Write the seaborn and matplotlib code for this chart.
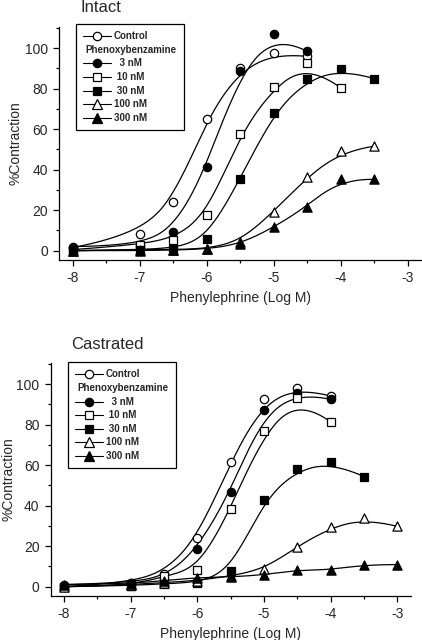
import numpy as np
import matplotlib
matplotlib.use('Agg')
import matplotlib.pyplot as plt
from matplotlib.lines import Line2D
from matplotlib.offsetbox import (AnchoredOffsetbox, DrawingArea, HPacker,
                                  TextArea, VPacker)
from matplotlib.ticker import MultipleLocator
import seaborn as sns

# ---- data (log M, % contraction) ----
LABELS = ['Control', '3 nM', '10 nM', '30 nM', '100 nM', '300 nM']

INTACT_X = {
    'Control': [-8, -7, -6.5, -6, -5.5, -5, -4.5],
    '3 nM':    [-8, -7, -6.5, -6, -5.5, -5, -4.5],
    '10 nM':   [-8, -7, -6.5, -6, -5.5, -5, -4.5, -4],
    '30 nM':   [-8, -7, -6.5, -6, -5.5, -5, -4.5, -4, -3.5],
    '100 nM':  [-8, -7, -6.5, -6, -5.5, -5, -4.5, -4, -3.5],
    '300 nM':  [-8, -7, -6.5, -6, -5.5, -5, -4.5, -4, -3.5],
}
INTACT_Y = {
    'Control': [1.5, 8, 24, 65, 90, 97.5, 96],
    '3 nM':    [2, 2.5, 9, 41.5, 89, 107, 98.5],
    '10 nM':   [0.5, 3, 5.5, 17.5, 57.5, 81, 92.5, 80.5],
    '30 nM':   [0, 0.5, 1, 5.8, 35.5, 68, 84.7, 89.8, 85],
    '100 nM':  [0, 0.5, 0.5, 1, 4.5, 19.3, 36.4, 49, 51.6],
    '300 nM':  [0, 0, 0.3, 0.8, 3.2, 11.5, 21.8, 35.6, 35.2],
}
CASTR_X = {
    'Control': [-8, -7, -6.5, -6, -5.5, -5, -4.5, -4],
    '3 nM':    [-8, -7, -6.5, -6, -5.5, -5, -4.5, -4],
    '10 nM':   [-8, -7, -6.5, -6, -5.5, -5, -4.5, -4],
    '30 nM':   [-8, -7, -6.5, -6, -5.5, -5, -4.5, -4, -3.5],
    '100 nM':  [-8, -7, -6.5, -6, -5.5, -5, -4.5, -4, -3.5, -3],
    '300 nM':  [-8, -7, -6.5, -6, -5.5, -5, -4.5, -4, -3.5, -3],
}
CASTR_Y = {
    'Control': [0, 2, 6.5, 24, 61.5, 92.5, 98.3, 94.2],
    '3 nM':    [1, 2, 4, 18.5, 47, 87.3, 95.8, 92.6],
    '10 nM':   [0, 0.3, 5.5, 8.2, 38.3, 77, 93.3, 81.4],
    '30 nM':   [0, 0.5, 1.5, 2, 7.6, 43, 58.2, 61.7, 54.4],
    '100 nM':  [0, 1, 2, 3, 5.3, 8.6, 19.8, 29.3, 33.8, 29.8],
    '300 nM':  [1, 1.5, 3, 4.5, 4.8, 5.8, 8.3, 8.1, 10.9, 10.9],
}
LEGEND_TEXT = ['Control', '  3 nM', ' 10 nM', ' 30 nM', '100 nM', '300 nM']

# marker, face colour, scatter size
STYLE = {
    'Control': ('o', 'white', 36),
    '3 nM':    ('o', 'black', 36),
    '10 nM':   ('s', 'white', 30),
    '30 nM':   ('s', 'black', 30),
    '100 nM':  ('^', 'white', 44),
    '300 nM':  ('^', 'black', 44),
}

sns.set_style('ticks')
plt.rcParams['font.family'] = ['Liberation Sans', 'DejaVu Sans']
plt.rcParams['axes.unicode_minus'] = False


def bspline(px, py, num=300):
    """Clamped cubic B-spline with the data points as control points
    (the 'B-spline' line connection of the original plotting program)."""
    P = np.column_stack([px, py]).astype(float)
    n, k = len(P), 3
    t = np.r_[np.zeros(k), np.arange(n - k + 1), np.full(k, n - k)]
    u = np.linspace(0, n - k, num)
    u[-1] -= 1e-9
    N = np.array([(t[i] <= u) & (u < t[i + 1]) for i in range(len(t) - 1)], float)
    for d in range(1, k + 1):
        new = []
        for i in range(len(t) - 1 - d):
            a = t[i + d] - t[i]
            b = t[i + d + 1] - t[i + 1]
            left = (u - t[i]) / a * N[i] if a > 0 else 0 * u
            right = (t[i + d + 1] - u) / b * N[i + 1] if b > 0 else 0 * u
            new.append(left + right)
        N = np.array(new)
    C = N.T @ P
    return C[:, 0], C[:, 1]


def legend_box(ax, anchor):
    rows = []
    for i, (lab, txt) in enumerate(zip(LABELS, LEGEND_TEXT)):
        m, fc, s = STYLE[lab]
        da = DrawingArea(20, 7, 0, 0)
        da.add_artist(Line2D([0, 20], [3.5, 3.5], color='black', lw=0.8))
        da.add_artist(Line2D([10], [3.5], marker=m, ms=np.sqrt(s),
                             mfc=fc, mec='black', mew=0.9, ls='none'))
        ta = TextArea(txt, textprops=dict(size=7, weight='bold'))
        rows.append(HPacker(children=[da, ta], pad=0, sep=2, align='center'))
        if i == 0:
            head = TextArea('Phenoxybenzamine', textprops=dict(size=7, weight='bold'))
            rows.append(HPacker(children=[DrawingArea(1.5, 7, 0, 0), head],
                                pad=0, sep=0, align='center'))
    box = VPacker(children=rows, pad=0, sep=2.6, align='left')
    ab = AnchoredOffsetbox(loc='upper left', child=box, pad=0.75, borderpad=0,
                           frameon=True, bbox_to_anchor=anchor,
                           bbox_transform=ax.transAxes, prop=dict(size=7))
    ab.patch.set_boxstyle('square,pad=0')
    ab.patch.set_edgecolor('black')
    ab.patch.set_linewidth(0.9)
    ax.add_artist(ab)


def panel(ax, xs, ys, anchor, ypad):
    for lab in LABELS:
        cx, cy = bspline(xs[lab], ys[lab])
        sns.lineplot(x=cx, y=cy, sort=False, estimator=None, color='black',
                     lw=0.9, ax=ax, zorder=2)
    for lab in LABELS:
        m, fc, s = STYLE[lab]
        sns.scatterplot(x=xs[lab], y=ys[lab], marker=m, s=s, color=fc,
                        edgecolor='black', linewidth=0.9, ax=ax, zorder=3,
                        legend=False)
    ax.set_xlim(-8.2, -2.8)
    ax.set_ylim(-4.6, 110.5)
    ax.xaxis.set_major_locator(MultipleLocator(1))
    ax.xaxis.set_minor_locator(MultipleLocator(0.5))
    ax.yaxis.set_major_locator(MultipleLocator(20))
    ax.yaxis.set_minor_locator(MultipleLocator(10))
    ax.tick_params(which='major', length=4.5, width=0.9, labelsize=10, color='black')
    ax.tick_params(which='minor', length=2.5, width=0.9, color='black')
    for sp in ['left', 'bottom']:
        ax.spines[sp].set_linewidth(0.9)
        ax.spines[sp].set_color('black')
    sns.despine(ax=ax)
    ax.set_xlabel('Phenylephrine (Log M)', fontsize=10, labelpad=4)
    ax.set_ylabel('%Contraction', fontsize=10, labelpad=ypad)
    legend_box(ax, anchor)


fig = plt.figure(figsize=(4.22, 6.4), dpi=100)
ax1 = fig.add_axes([0.1405, 0.5938, 0.857, 0.364])
ax2 = fig.add_axes([0.1201, 0.0688, 0.853, 0.364])

panel(ax1, INTACT_X, INTACT_Y, (0.046, 1.013), 2)
panel(ax2, CASTR_X, CASTR_Y, (0.048, 1.004), 1)

fig.text(0.19, 0.981, 'Intact', fontsize=12, va='baseline', ha='left')
fig.text(0.168, 0.4547, 'Castrated', fontsize=12, va='baseline', ha='left')

fig.savefig('out.png', dpi=100, facecolor='white')
